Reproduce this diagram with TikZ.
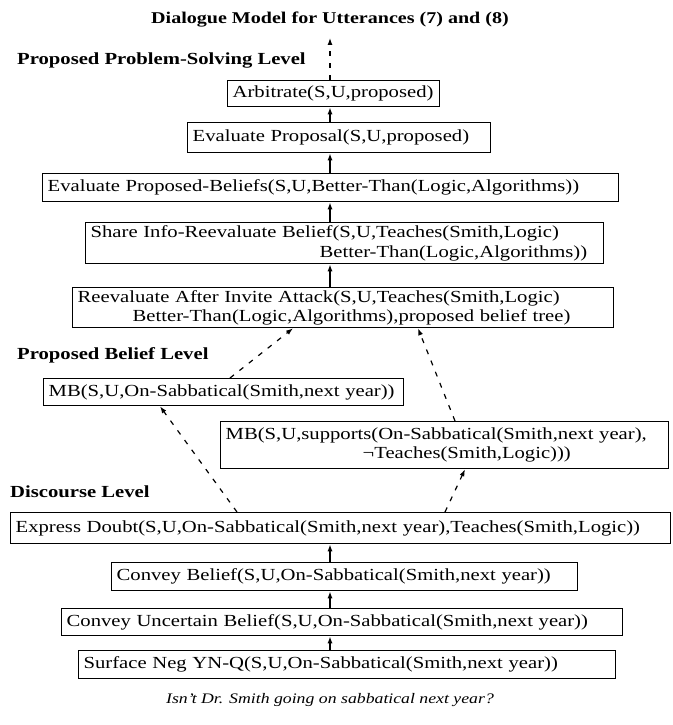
\documentclass[tikz,border=0pt]{standalone}
\usepackage{fontspec}
\setmainfont{Liberation Serif}[FakeStretch=1.22]
\usetikzlibrary{arrows.meta}
\newcommand{\Lx}[1]{\mbox{#1}}
\begin{document}
\begin{tikzpicture}[x=1bp,y=-1bp,
  box/.style={draw, line width=1.3bp, anchor=north west, inner xsep=5bp, inner ysep=0bp,
    align=left, font=\fontsize{17}{19.5}\selectfont},
  lvl/.style={anchor=west, inner sep=0bp, font=\fontsize{17}{20}\selectfont\bfseries},
  arr/.style={line width=1.3bp, -{Latex[length=7bp,width=5bp]}},
  darr/.style={line width=1.2bp, dash pattern=on 5bp off 7bp, -{Latex[length=7bp,width=5bp]}}]
\useasboundingbox (0,0) rectangle (673,725);
\coordinate (cx) at (330,0);

\node[inner sep=0bp, font=\fontsize{16.5}{20}\selectfont\bfseries] (title) at (330,20) {Dialogue Model for Utterances (7) and (8)};

\node[lvl] (lps) at (17,60) {Proposed Problem-Solving Level};
\node[lvl] (lpb) at (17,355) {Proposed Belief Level};
\node[lvl] (ldl) at (10,492) {Discourse Level};

\node[box, text width=202bp, minimum height=26bp] (arb) at (227,80) {\Lx{Arbitrate(S,U,proposed)}};
\node[box, text width=293bp, minimum height=30bp] (ep) at (187,122) {\Lx{Evaluate Proposal(S,U,proposed)}};
\node[box, text width=566bp, minimum height=28bp] (epb) at (42,173) {\Lx{Evaluate Proposed-Beliefs(S,U,Better-Than(Logic,Algorithms))}};
\node[box, text width=508bp, minimum height=41bp] (share) at (85,222) {\Lx{Share Info-Reevaluate Belief(S,U,Teaches(Smith,Logic)}\\\Lx{\hspace*{229bp}Better-Than(Logic,Algorithms))}};
\node[box, text width=531bp, minimum height=40bp] (reev) at (72,287) {\Lx{Reevaluate After Invite Attack(S,U,Teaches(Smith,Logic)}\\\Lx{\hspace*{55bp}Better-Than(Logic,Algorithms),proposed belief tree)}};

\node[box, text width=350bp, minimum height=27bp] (mb1) at (43,378) {\Lx{MB(S,U,On-Sabbatical(Smith,next year))}};
\node[box, text width=438bp, minimum height=47bp] (mb2) at (220,421) {\Lx{MB(S,U,supports(On-Sabbatical(Smith,next year),}\\\Lx{\hspace*{137bp}¬Teaches(Smith,Logic)))}};

\node[box, text width=650bp, minimum height=31bp] (ed) at (10,512) {\Lx{Express Doubt(S,U,On-Sabbatical(Smith,next year),Teaches(Smith,Logic))}};
\node[box, text width=456bp, minimum height=28bp] (cb) at (111,562) {\Lx{Convey Belief(S,U,On-Sabbatical(Smith,next year))}};
\node[box, text width=551bp, minimum height=27bp] (cu) at (61,608) {\Lx{Convey Uncertain Belief(S,U,On-Sabbatical(Smith,next year))}};
\node[box, text width=527bp, minimum height=28bp] (sf) at (78,650) {\Lx{Surface Neg YN-Q(S,U,On-Sabbatical(Smith,next year))}};

\node[inner sep=0bp, font=\fontsize{14.6}{18}\selectfont\itshape] (cap) at (330,700) {Isn’t Dr. Smith going on sabbatical next year?};

\coordinate (top) at (330,38);
\draw[darr] (arb.north -| cx) -- (top);
\draw[arr] (ep.north -| cx) -- (arb.south -| cx);
\draw[arr] (epb.north -| cx) -- (ep.south -| cx);
\draw[arr] (share.north -| cx) -- (epb.south -| cx);
\draw[arr] (reev.north -| cx) -- (share.south -| cx);
\draw[arr] (cb.north -| cx) -- (ed.south -| cx);
\draw[arr] (cu.north -| cx) -- (cb.south -| cx);
\draw[arr] (sf.north -| cx) -- (cu.south -| cx);

\draw[darr] ([xshift=187bp]mb1.north west) -- ([xshift=221bp]reev.south west);
\draw[darr] ([xshift=235bp]mb2.north west) -- ([xshift=346bp]reev.south west);
\draw[darr] ([xshift=227bp]ed.north west) -- ([xshift=117bp]mb1.south west);
\draw[darr] ([xshift=435bp]ed.north west) -- ([xshift=245bp]mb2.south west);
\end{tikzpicture}
\end{document}
